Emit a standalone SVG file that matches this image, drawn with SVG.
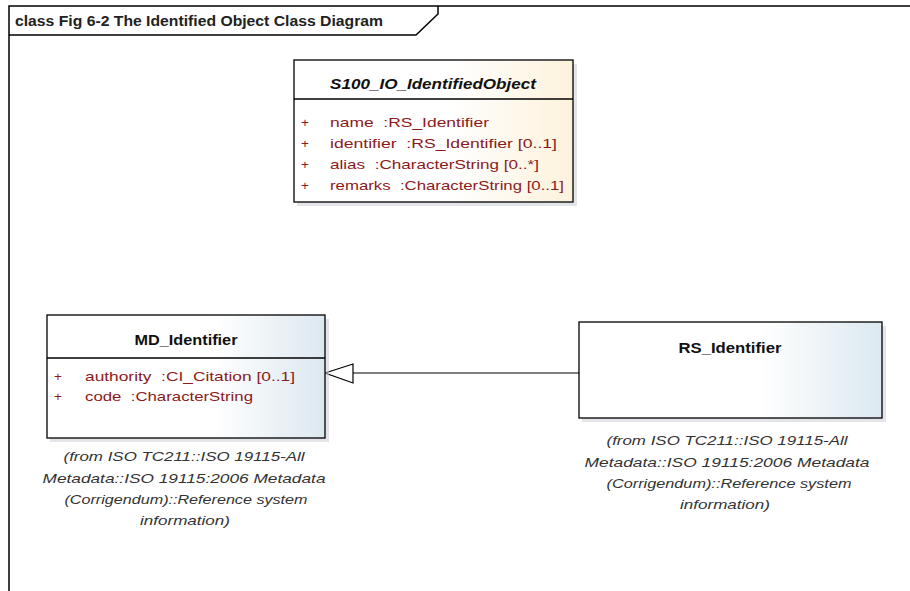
<svg xmlns="http://www.w3.org/2000/svg" width="910" height="591" viewBox="0 0 910 591">
<style>
.frame{fill:none;stroke:#000;stroke-width:1.5}
.box{stroke:#000;stroke-width:1.3}
.shadow{fill:#c8ccd2;opacity:0.5}
text{white-space:pre}
.title{font-family:"Liberation Sans",Arial,sans-serif;font-size:14px;font-weight:bold;fill:#111;text-anchor:middle}
.attr{font-family:"Liberation Sans",Arial,sans-serif;font-size:13.5px;fill:#8b1a1a}
.note{font-family:"Liberation Sans",Arial,sans-serif;font-size:13px;font-style:italic;fill:#333;text-anchor:middle}
.ftitle{font-family:"Liberation Sans",Arial,sans-serif;font-size:14.5px;font-weight:bold;fill:#222}
</style>
<defs>
<linearGradient id="blue" x1="0" y1="0" x2="1" y2="0">
<stop offset="0" stop-color="#ffffff"/><stop offset="0.6" stop-color="#ffffff"/><stop offset="1" stop-color="#dce8f0"/>
</linearGradient>
<linearGradient id="yellow" x1="0" y1="0" x2="1" y2="0">
<stop offset="0" stop-color="#ffffff"/><stop offset="0.55" stop-color="#ffffff"/><stop offset="1" stop-color="#fdf2dc"/>
</linearGradient>
</defs>
<rect width="910" height="591" fill="#fff"/>
<g id="frame">
<path class="frame" d="M9,591 V6 H910"/>
<path class="frame" d="M9,35 H416 L438,14 V6"/>
<text class="ftitle" x="15" y="26" textLength="368" lengthAdjust="spacingAndGlyphs">class Fig 6-2 The Identified Object Class Diagram</text>
</g>
<g id="connectors">
<line x1="353" y1="373" x2="579" y2="373" stroke="#000" stroke-width="1.2"/>
<polygon points="325,373 353,364 353,383" fill="#fff" stroke="#000" stroke-width="1.2"/>
</g>
<g id="S100_IO_IdentifiedObject">
<rect class="shadow" x="297" y="64" width="280" height="142"/>
<rect class="box" x="294" y="60" width="279" height="142" fill="url(#yellow)"/>
<line class="box" x1="294" y1="99" x2="573" y2="99"/>
<text class="title" x="433" y="89" font-style="italic" textLength="206" lengthAdjust="spacingAndGlyphs">S100_IO_IdentifiedObject</text>
<text class="attr" x="301" y="127">+</text><text class="attr" x="330" y="127" textLength="159" lengthAdjust="spacingAndGlyphs">name  :RS_Identifier</text>
<text class="attr" x="301" y="148">+</text><text class="attr" x="330" y="148" textLength="227" lengthAdjust="spacingAndGlyphs">identifier  :RS_Identifier [0..1]</text>
<text class="attr" x="301" y="169">+</text><text class="attr" x="330" y="169" textLength="209" lengthAdjust="spacingAndGlyphs">alias  :CharacterString [0..*]</text>
<text class="attr" x="301" y="190">+</text><text class="attr" x="330" y="190" textLength="234" lengthAdjust="spacingAndGlyphs">remarks  :CharacterString [0..1]</text>
</g>
<g id="MD_Identifier">
<rect class="shadow" x="50" y="319" width="279" height="123"/>
<rect class="box" x="47" y="315" width="278" height="123" fill="url(#blue)"/>
<line class="box" x1="47" y1="358" x2="325" y2="358"/>
<text class="title" x="186" y="345" textLength="103" lengthAdjust="spacingAndGlyphs">MD_Identifier</text>
<text class="attr" x="54" y="381">+</text><text class="attr" x="85" y="381" textLength="210" lengthAdjust="spacingAndGlyphs">authority  :CI_Citation [0..1]</text>
<text class="attr" x="54" y="401">+</text><text class="attr" x="85" y="401" textLength="168" lengthAdjust="spacingAndGlyphs">code  :CharacterString</text>
<text class="note" x="184" y="461" textLength="241" lengthAdjust="spacingAndGlyphs">(from ISO TC211::ISO 19115-All</text>
<text class="note" x="184" y="483" textLength="283" lengthAdjust="spacingAndGlyphs">Metadata::ISO 19115:2006 Metadata</text>
<text class="note" x="186" y="504" textLength="243" lengthAdjust="spacingAndGlyphs">(Corrigendum)::Reference system</text>
<text class="note" x="185" y="525" textLength="90" lengthAdjust="spacingAndGlyphs">information)</text>
</g>
<g id="RS_Identifier">
<rect class="shadow" x="582" y="326" width="304" height="96"/>
<rect class="box" x="579" y="322" width="303" height="96" fill="url(#blue)"/>
<text class="title" x="730" y="353" textLength="103" lengthAdjust="spacingAndGlyphs">RS_Identifier</text>
<text class="note" x="727" y="445" textLength="241" lengthAdjust="spacingAndGlyphs">(from ISO TC211::ISO 19115-All</text>
<text class="note" x="727" y="467" textLength="285" lengthAdjust="spacingAndGlyphs">Metadata::ISO 19115:2006 Metadata</text>
<text class="note" x="729" y="488" textLength="245" lengthAdjust="spacingAndGlyphs">(Corrigendum)::Reference system</text>
<text class="note" x="725" y="509" textLength="90" lengthAdjust="spacingAndGlyphs">information)</text>
</g>
</svg>
